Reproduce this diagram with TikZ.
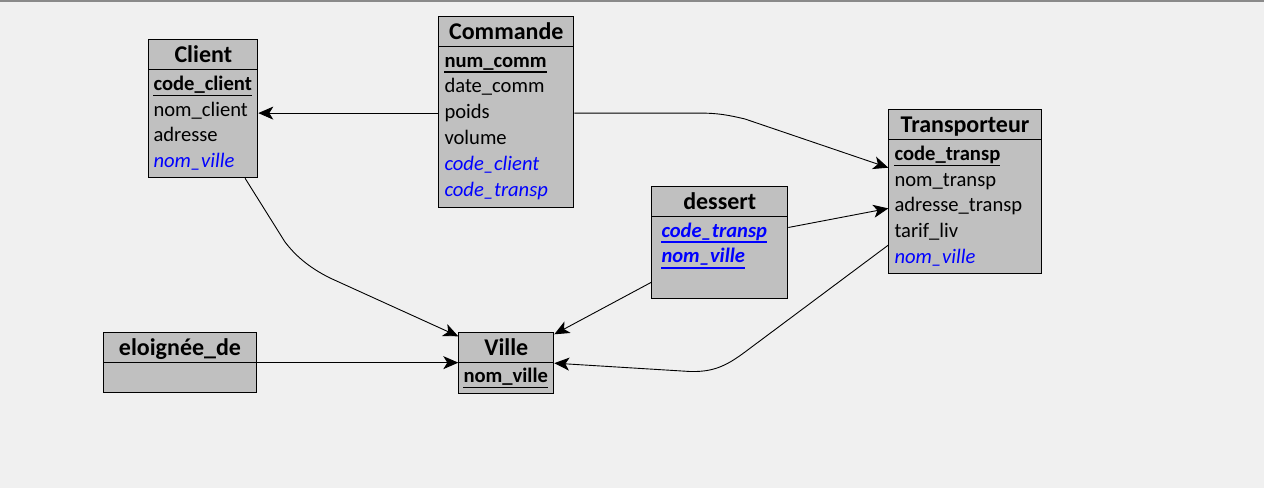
\documentclass[tikz,border=0pt]{standalone}
\usepackage{fontspec}
\setmainfont{Carlito}
\usetikzlibrary{arrows.meta,calc}
\definecolor{bg}{HTML}{F0F0F0}
\definecolor{boxfill}{HTML}{C0C0C0}
\definecolor{fk}{HTML}{0000FF}
\definecolor{frame}{HTML}{8A8A8A}
\tikzset{
  ent/.style={draw=black, fill=boxfill, line width=1pt, inner sep=0pt, anchor=north west},
  sepline/.style={draw=black, line width=1pt},
  ttl/.style={font=\fontsize{24}{28}\selectfont\bfseries, inner sep=0pt, anchor=base},
  row/.style={font=\fontsize{20.6}{24}\selectfont, inner sep=0pt, anchor=base west, text height=15pt, text depth=4pt},
  pkrow/.style={row, font=\fontsize{20.6}{24}\selectfont\bfseries},
  fkrow/.style={row, text=fk, font=\fontsize{20.6}{24}\selectfont\itshape},
  fkpkrow/.style={row, text=fk, font=\fontsize{20.6}{24}\selectfont\bfseries\itshape},
  conn/.style={draw=black, line width=0.9pt, -{Stealth[length=15pt,width=13pt,inset=4pt]}},
}
\newcommand\pkline[2]{\draw[draw=#2, line width=1.4pt] ($(#1.base west)+(0,5)$) -- ($(#1.base east)+(0,5)$);}
\newcommand\titlesep[1]{\draw[sepline] ($(#1.north west)+(0,30)$) -- ($(#1.north east)+(0,30)$);}
\begin{document}
\begin{tikzpicture}[x=1pt,y=-1pt]
\useasboundingbox (0,0) rectangle (1264,488);
\fill[bg] (0,0) rectangle (1264,488);
\draw[frame, line width=2pt] (0,1) -- (1264,1);

% Client
\node[ent, minimum width=109pt, minimum height=138pt] (client) at (148.3,39.3) {};
\titlesep{client}
\node[ttl] (clientT) at ($(client.north)+(0,23)$) {Client};
\node[pkrow] (c1) at ($(client.north west)+(5,51)$) {code\_client};
\pkline{c1}{black}
\node[row] (c2) at ($(client.north west)+(5,76.8)$) {nom\_client};
\node[row] (c3) at ($(client.north west)+(5,102.6)$) {adresse};
\node[fkrow] (c4) at ($(client.north west)+(5,128.4)$) {nom\_ville};

% Commande
\node[ent, minimum width=135pt, minimum height=190.7pt] (commande) at (438.3,16) {};
\titlesep{commande}
\node[ttl] (commandeT) at ($(commande.north)+(0,23)$) {Commande};
\node[pkrow] (m1) at ($(commande.north west)+(6,51)$) {num\_comm};
\pkline{m1}{black}
\node[row] (m2) at ($(commande.north west)+(6,76.8)$) {date\_comm};
\node[row] (m3) at ($(commande.north west)+(6,102.6)$) {poids};
\node[row] (m4) at ($(commande.north west)+(6,128.4)$) {volume};
\node[fkrow] (m5) at ($(commande.north west)+(6,154.2)$) {code\_client};
\node[fkrow] (m6) at ($(commande.north west)+(6,180)$) {code\_transp};

% Transporteur
\node[ent, minimum width=152.4pt, minimum height=164pt] (transporteur) at (888.3,109.3) {};
\titlesep{transporteur}
\node[ttl] (transporteurT) at ($(transporteur.north)+(0,23)$) {Transporteur};
\node[pkrow] (t1) at ($(transporteur.north west)+(6,51)$) {code\_transp};
\pkline{t1}{black}
\node[row] (t2) at ($(transporteur.north west)+(6,76.8)$) {nom\_transp};
\node[row] (t3) at ($(transporteur.north west)+(6,102.6)$) {adresse\_transp};
\node[row] (t4) at ($(transporteur.north west)+(6,128.4)$) {tarif\_liv};
\node[fkrow] (t5) at ($(transporteur.north west)+(6,154.2)$) {nom\_ville};

% dessert
\node[ent, minimum width=136pt, minimum height=112.3pt] (dessert) at (651.3,186) {};
\titlesep{dessert}
\node[ttl] (dessertT) at ($(dessert.north)+(0,23)$) {dessert};
\node[fkpkrow] (d1) at ($(dessert.north west)+(10,51)$) {code\_transp};
\pkline{d1}{fk}
\node[fkpkrow] (d2) at ($(dessert.north west)+(10,76.8)$) {nom\_ville};
\pkline{d2}{fk}

% eloignee_de
\node[ent, minimum width=152.4pt, minimum height=59.7pt] (eloi) at (103.3,332.3) {};
\titlesep{eloi}
\node[ttl] (eloiT) at ($(eloi.north)+(0,23)$) {eloignée\_de};

% Ville
\node[ent, minimum width=95pt, minimum height=60.7pt] (ville) at (458.3,332.3) {};
\titlesep{ville}
\node[ttl] (villeT) at ($(ville.north)+(0,23)$) {Ville};
\node[pkrow] (v1) at ($(ville.north west)+(5,50)$) {nom\_ville};
\pkline{v1}{black}

% helper coordinates
\coordinate (tmid) at ($(t1.west)!0.5!(t2.west)$);
\coordinate (tmid2) at ($(t4.west)!0.5!(t5.west)$);

% connectors
\draw[conn] (m3.west -| commande.west) -- (m3.west -| client.east);
\draw[conn] (m3.west -| commande.east) -- (700,113.1) .. controls (718,113.1) and (728,115) .. (745,119) -- (tmid -| transporteur.west);
\draw[conn] ($(client.south west)!0.88!(client.south east)$) -- (285,242) .. controls (295,255) and (308,267) .. (330,278) -- ($(ville.north west)+(0,4)$);
\draw[conn] ($(d1.west -| dessert.east)+(0,-4)$) -- ($(t3.west -| transporteur.west)+(0,2)$);
\draw[conn] ($(dessert.south west)+(0,-17)$) -- ($(ville.north east)+(0,2)$);
\draw[conn] (tmid2 -| transporteur.west) -- (745,352) .. controls (725,367) and (712,372) .. (690,371.5) -- (ville.east);
\draw[conn] (eloi.east) -- (eloi.east -| ville.west);
\end{tikzpicture}
\end{document}
